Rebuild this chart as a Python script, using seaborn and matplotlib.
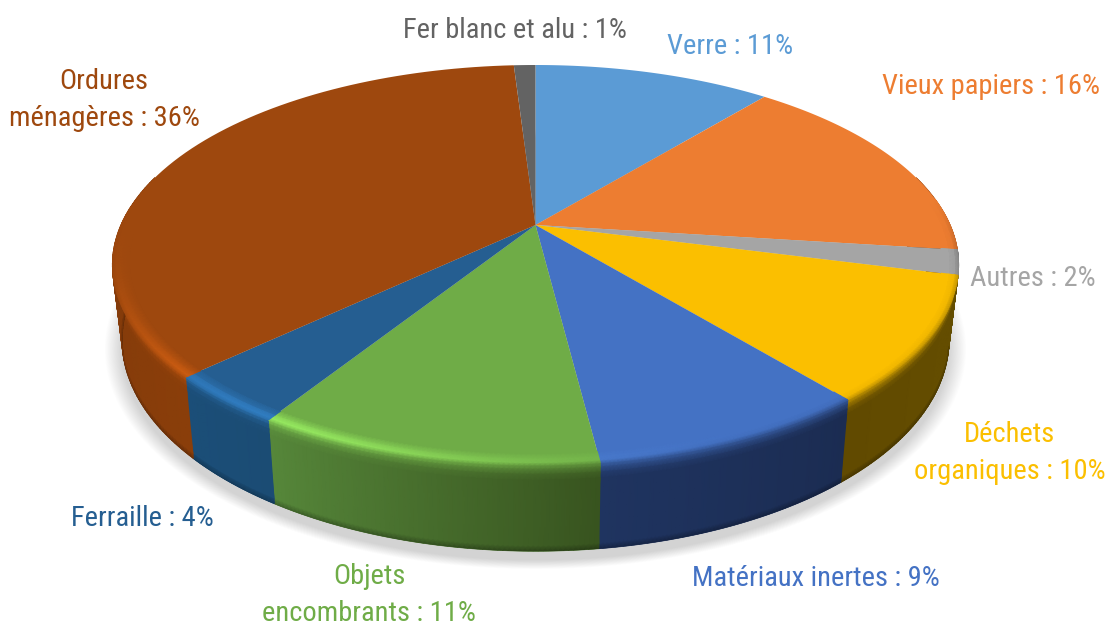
import numpy as np
import matplotlib
matplotlib.use("Agg")
import matplotlib.pyplot as plt
import matplotlib.colors as mcolors
import seaborn as sns

# Données du camembert (sens horaire depuis le haut)
categories = ["Verre", "Vieux papiers", "Autres", "Déchets\norganiques", "Matériaux inertes",
              "Objets\nencombrants", "Ferraille", "Ordures\nménagères", "Fer blanc et alu"]
valeurs = [11, 16, 2, 10, 9, 11, 4, 36, 1]

couleurs = ["#5B9BD5", "#ED7D31", "#A5A5A5", "#FBBF00", "#4472C4", "#6FAC47", "#255E91", "#9E480E", "#636363"]
# flanc : teinte côté droit, teinte côté gauche de chaque part
flanc_droite = ["#35587a", "#7a3f18", "#4a4a4a", "#654e00", "#1b2c52", "#38541f", "#1b4c74", "#8a3e0a", "#3a3a3a"]
flanc_gauche = ["#35587a", "#7a3f18", "#5a5a5a", "#614a00", "#1f3460", "#56873a", "#1b4e78", "#80390a", "#3a3a3a"]

pos_textes = [(730, 46), (991, 86), (1033, 278), (1010, 453), (816, 578),
              (369, 595), (142, 518), (104, 100), (515, 31)]

# géométrie de la projection (pixels de la figure)
CX, K = 535.5, 0.2
HAUT = dict(ax=414.5, by=192.0, cy=225.0)
BAS = dict(ax=405.0, by=202.6, cy=298.0)


def projeter(theta, r, p):
    x = r * np.sin(theta)
    z = -r * np.cos(theta)
    d = 1 - K * z
    return CX + p["ax"] * x / d, p["cy"] + p["by"] * z / d


def melange(a, b, t):
    return np.asarray(a) * (1 - t) + np.asarray(b) * t


sns.set_theme(style="white")
plt.rcParams["font.family"] = ["Roboto Condensed", "Liberation Sans Narrow", "Roboto", "DejaVu Sans"]

fig, ax = plt.subplots(figsize=(11.08, 6.26), dpi=100)
fig.subplots_adjust(0, 0, 1, 1)
ax.set_xlim(0, 1108)
ax.set_ylim(626, 0)
ax.axis("off")
palette = sns.color_palette(couleurs)

# ombre portée floue
t_ombre = np.linspace(0, 2 * np.pi, 300)
for i in range(22):
    marge = 1 + (21 - i) * 0.002
    xs, ys = projeter(t_ombre, 1.0, BAS)
    ax.fill(CX + (xs - CX) * marge, 340 + (ys - 340) * marge + 9, color="#000000", alpha=0.0085, lw=0, zorder=1)

bornes = np.cumsum([0] + valeurs) / sum(valeurs) * 2 * np.pi

# flancs (sous le dessus du camembert)
for i in range(len(valeurs)):
    a = max(bornes[i], np.radians(75))
    b = min(bornes[i + 1], np.radians(285))
    if b > a:
        t = np.linspace(a, b, 80)
        xh, yh = projeter(t, 1.0, HAUT)
        xb, yb = projeter(t, 1.0, BAS)
        ax.fill(np.r_[xh, xb[::-1]], np.r_[yh, yb[::-1]],
                color=melange(mcolors.to_rgb(flanc_droite[i]), mcolors.to_rgb(flanc_gauche[i]), 0.5), lw=0.5, zorder=2)

for i in range(len(valeurs)):
    t = np.linspace(bornes[i], bornes[i + 1], 80)
    xs, ys = projeter(t, 1.0, HAUT)
    ax.fill(np.r_[CX, xs], np.r_[HAUT["cy"], ys], color=palette[i], lw=0, zorder=4)

# dégradés : bord supérieur arrondi puis flanc
lignes_r = [0.962, 0.98, 0.993, 1.0]
lignes_s = [0.0, 0.05, 0.11, 0.18, 0.94, 0.995]
for i in range(len(valeurs)):
    a = max(bornes[i], np.radians(75))
    b = min(bornes[i + 1], np.radians(285))
    if b <= a:
        continue
    t = np.linspace(a, b, 70)
    deg = np.degrees(t)
    dessus = np.array(mcolors.to_rgb(couleurs[i]))
    fl = np.array([melange(mcolors.to_rgb(flanc_droite[i]), mcolors.to_rgb(flanc_gauche[i]), v)
                   for v in np.linspace(0, 1, len(t))])
    d3 = np.tile(dessus, (len(t), 1))
    clair = np.clip(d3 * 1.42, 0, 1)
    # reflet surtout à l'avant gauche
    reflet = np.exp(-((deg - 212) / 32) ** 2)
    reflet[deg < 165] *= np.clip((deg[deg < 165] - 150) / 15, 0, 1)
    # le biseau disparaît vers l'arrière
    fondu = np.clip((deg - 82) / 15, 0, 1) * np.clip((276 - deg) / 25, 0, 1)

    # partie posée sur le dessus, seulement là où le biseau existe
    garde = (deg >= 82) & (deg <= 276)
    if garde.sum() > 1:
        X, Y, C = [], [], []
        for r, (m1, m2) in zip(lignes_r, [(0, 0), (0.55, 0), (1, 0.08), (0.9, 0.38)]):
            x, y = projeter(t[garde], r, HAUT)
            X.append(x)
            Y.append(y)
            c = d3 + (clair - d3) * (reflet * m1 * fondu)[:, None]
            c = c + (fl - c) * (m2 * fondu)[:, None]
            C.append(c[garde])
        ax.pcolormesh(np.array(X), np.array(Y), np.clip(np.array(C), 0, 1), shading="gouraud", zorder=5)

    # partie sur le flanc
    xh, yh = projeter(t, 1.0, HAUT)
    xb, yb = projeter(t, 1.0, BAS)
    X, Y, C = [], [], []
    for s, (m1, m2, m3) in zip(lignes_s, [(0.9, 0.38, 1), (0.5, 0.62, 1), (0.2, 0.88, 1), (0, 1, 1), (0, 1, 1), (0, 1, 0.72)]):
        X.append(xh + (xb - xh) * s)
        Y.append(yh + (yb - yh) * s)
        c = d3 + (clair - d3) * (reflet * m1)[:, None]
        C.append((c + (fl - c) * m2) * m3)
    ax.pcolormesh(np.array(X), np.array(Y), np.clip(np.array(C), 0, 1), shading="gouraud", zorder=3)

# étiquettes
for nom, v, (x, y), c in zip(categories, valeurs, pos_textes, couleurs):
    ax.text(x, y, f"{nom} : {v}%", color=c, fontsize=20.5, ha="center", va="center",
            linespacing=1.5, zorder=6)

fig.savefig("out.png", dpi=100)
